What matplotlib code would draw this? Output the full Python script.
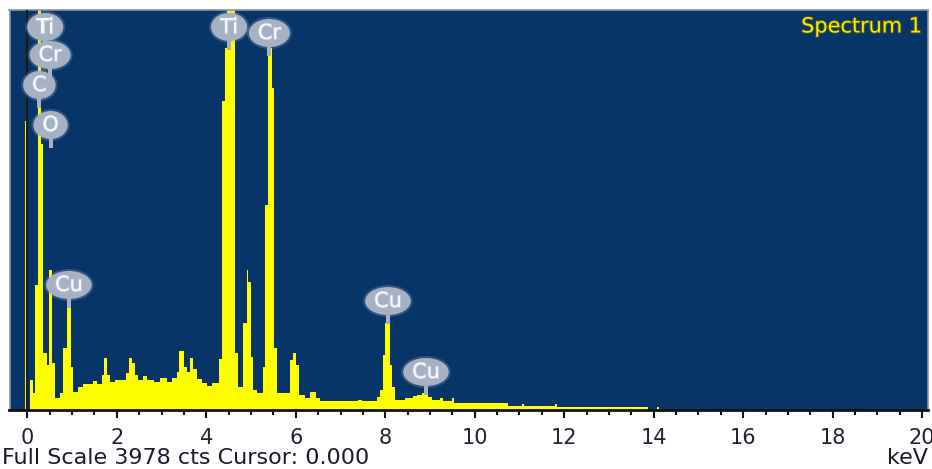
import matplotlib
matplotlib.use("Agg")
import matplotlib.pyplot as plt
import matplotlib.patheffects as pe
from matplotlib.patches import Ellipse, Rectangle
from matplotlib.ticker import MultipleLocator

# spectrum as a step histogram: bin edges (keV) and counts per bin
edges = [-0.06, -0.01, 0.06, 0.13, 0.17, 0.25, 0.30, 0.35, 0.44, 0.48,
         0.55, 0.62, 0.73, 0.80, 0.89, 0.98, 1.02, 1.13, 1.25, 1.47,
         1.56, 1.67, 1.71, 1.78, 1.85, 1.96, 2.21, 2.27, 2.34, 2.41,
         2.47, 2.59, 2.67, 2.83, 2.97, 3.12, 3.23, 3.35, 3.40, 3.50,
         3.57, 3.64, 3.70, 3.79, 3.90, 4.02, 4.13, 4.28, 4.35, 4.42,
         4.47, 4.64, 4.71, 4.82, 4.90, 4.94, 5.00, 5.04, 5.13, 5.27,
         5.31, 5.38, 5.47, 5.52, 5.59, 5.87, 5.94, 6.00, 6.07, 6.21,
         6.32, 6.45, 6.54, 7.39, 7.48, 7.81, 7.88, 7.94, 7.99, 8.11,
         8.15, 8.22, 8.44, 8.62, 8.71, 8.82, 8.95, 9.04, 9.22, 9.29,
         9.49, 9.53, 10.74, 11.05, 11.10, 11.79, 11.84, 13.87, 14.07, 14.12]
counts = [2880, 0, 300, 170, 1240, 4500, 2650, 567, 450, 1390,
          467, 120, 170, 617, 1120, 430, 180, 230, 260, 290,
          260, 350, 517, 350, 275, 300, 370, 520, 467, 350,
          295, 340, 300, 275, 318, 280, 320, 375, 585, 430,
          380, 517, 410, 310, 270, 240, 265, 510, 3080, 3600,
          4500, 567, 230, 865, 1390, 1270, 527, 200, 170, 430,
          2040, 3600, 3210, 617, 170, 500, 567, 450, 150, 120,
          180, 120, 90, 100, 90, 130, 200, 547, 865, 450,
          230, 100, 117, 140, 150, 170, 130, 100, 117, 90,
          117, 70, 40, 60, 40, 60, 33, 0, 25]

full_scale = 3978

# element markers: name, energy (keV), height of the tag (counts)
peak_names = ["Ti", "Cr", "C", "O", "Ti", "Cr", "Cu", "Cu", "Cu"]
peak_energy = [0.40, 0.51, 0.27, 0.52, 4.51, 5.41, 0.93, 8.06, 8.91]
peak_tag_y = [3814, 3535, 3236, 2838, 3814, 3754, 1245, 1085, 378]

W, H = 932, 469
fig = plt.figure(figsize=(W / 100, H / 100), dpi=100)
ax_l, ax_r, ax_t, ax_b = 9.5, 928, 10.5, 410
ax = fig.add_axes([ax_l / W, (H - ax_b) / H, (ax_r - ax_l) / W, (ax_b - ax_t) / H])
ax.set_facecolor("#083567")

xmin, xmax = -0.398, 20.13
ax.set_xlim(xmin, xmax)
ax.set_ylim(0, full_scale)

ax.stairs(counts, edges, fill=True, color="#ffff00", baseline=0, zorder=2)
ax.axvline(0, color="#1a1a1a", lw=1.5, zorder=3)

ax.set_yticks([])
ax.xaxis.set_major_locator(MultipleLocator(2))
ax.xaxis.set_minor_locator(MultipleLocator(0.5))
ax.tick_params(axis="x", which="major", direction="out", length=6, width=1.5,
               color="#111111", labelsize=15, labelcolor="#222233", pad=7)
ax.tick_params(axis="x", which="minor", direction="out", length=3.6, width=1.5,
               color="#111111")
ax.set_xticks(range(0, 21, 2))
ax.set_xticklabels([str(v) for v in range(0, 21, 2)])

for side in ["top", "left", "right"]:
    ax.spines[side].set_color("#8094ad")
    ax.spines[side].set_linewidth(1.2)
ax.spines["bottom"].set_color("#111111")
ax.spines["bottom"].set_linewidth(2)

# rounded element tags with a short stem
renderer = fig.canvas.get_renderer()
kx = (xmax - xmin) / (ax_r - ax_l)
ky = full_scale / (ax_b - ax_t)
tag_color = "#a6b1c4"
for i, (name, e, c) in enumerate(zip(peak_names, peak_energy, peak_tag_y)):
    z = 5 + i * 0.1
    t = ax.text(e, c, name, ha="center", va="center", fontsize=15,
                color="#f6f8fc", zorder=z + 0.05)
    t.set_path_effects([pe.withStroke(linewidth=1, foreground="#c8d0de")])
    w = t.get_window_extent(renderer).width + 18
    ax.add_patch(Ellipse((e, c), (w + 4) * kx, 32 * ky, color=tag_color,
                         alpha=0.25, lw=0, zorder=z))
    ax.add_patch(Ellipse((e, c), w * kx, 28 * ky, color=tag_color,
                         lw=0, zorder=z + 0.01))
    ax.add_patch(Rectangle((e - 2 * kx, c - 23 * ky), 4 * kx, 10 * ky,
                           color=tag_color, lw=0, zorder=z + 0.01))

ax.text(0.9935, 0.985, "Spectrum 1", transform=ax.transAxes, ha="right", va="top",
        fontsize=15, color="#f2f200",
        path_effects=[pe.withStroke(linewidth=1.5, foreground="#50501a")])

fig.text(2 / W, 1 / H, "Full Scale 3978 cts Cursor: 0.000", ha="left", va="bottom",
         fontsize=16, color="#1a1a2a")
fig.text(928 / W, 1 / H, "keV", ha="right", va="bottom", fontsize=16, color="#1a1a2a")

fig.savefig("out.png", dpi=100)
